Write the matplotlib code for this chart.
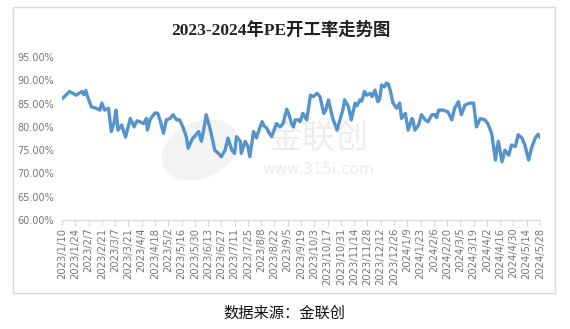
import matplotlib.pyplot as plt
import pandas as pd
from matplotlib.patches import Rectangle, Ellipse

plt.rcParams['font.family'] = ['Noto Sans CJK SC', 'DejaVu Sans']

START = "2023-01-10"
END = "2024-05-28"

# days after 2023-01-10
DAYS = [1, 8, 15, 21, 23, 25, 27, 31, 36, 40, 42, 45, 49, 52, 55, 57, 59, 63,
        65, 67, 72, 76, 79, 82, 86, 89, 90, 93, 98, 101, 104, 107, 110, 114,
        117, 121, 124, 128, 131, 133, 136, 138, 141, 144, 147, 150, 152, 156,
        159, 161, 165, 168, 172, 175, 179, 182, 184, 188, 189, 193, 196, 198,
        202, 205, 208, 211, 213, 216, 218, 221, 224, 226, 230, 233, 237, 240,
        242, 244, 246, 249, 251, 254, 258, 262, 265, 269, 272, 276, 278, 281,
        284, 286, 290, 293, 296, 298, 302, 305, 309, 311, 314, 316, 319, 321,
        325, 327, 330, 333, 335, 337, 340, 342, 344, 346, 348, 349, 353, 356,
        358, 362, 365, 369, 370, 372, 376, 379, 383, 386, 390, 393, 395, 397,
        402, 407, 411, 414, 418, 421, 425, 430, 434, 437, 441, 446, 449, 453,
        457, 460, 464, 467, 471, 474, 478, 481, 485, 488, 492, 495, 499, 502,
        504]

# PE operating rate, %
RATE = [86.2, 87.6, 86.8, 87.6, 86.9, 87.8, 86.5, 84.3, 84.0, 83.6, 85.1, 83.6,
        84.0, 79.0, 81.0, 83.6, 79.3, 80.4, 79.0, 77.8, 81.8, 80.0, 81.3, 81.1,
        80.7, 81.8, 79.3, 81.6, 83.0, 82.9, 81.0, 78.6, 81.5, 81.8, 82.6, 81.5,
        81.5, 79.7, 77.9, 75.4, 76.8, 77.6, 78.2, 79.0, 76.9, 80.0, 82.6, 79.7,
        77.0, 75.0, 74.3, 73.6, 75.0, 77.6, 75.0, 74.3, 77.9, 76.9, 74.3, 76.9,
        75.8, 73.6, 79.0, 77.6, 79.5, 81.1, 80.2, 79.7, 78.8, 77.9, 79.5, 80.7,
        80.0, 80.7, 83.8, 82.2, 80.7, 80.0, 81.5, 81.5, 81.1, 82.9, 81.5, 86.8,
        86.5, 87.2, 86.5, 82.9, 83.5, 85.8, 83.0, 81.5, 79.3, 81.5, 83.5, 85.8,
        84.3, 81.5, 85.1, 84.5, 85.8, 85.5, 87.6, 86.8, 87.2, 86.5, 87.9, 85.4,
        86.0, 89.0, 88.6, 89.4, 89.2, 87.9, 86.0, 85.1, 84.0, 85.1, 81.8, 82.9,
        79.3, 81.8, 81.5, 79.3, 80.4, 82.6, 81.5, 81.1, 82.6, 82.6, 82.0, 83.6,
        83.6, 83.2, 81.5, 84.0, 85.4, 82.6, 84.7, 85.1, 85.1, 80.0, 81.8, 81.5,
        80.7, 78.6, 72.9, 76.9, 72.5, 75.0, 73.9, 76.1, 75.8, 78.3, 77.6, 76.1,
        72.9, 75.4, 77.6, 78.4, 77.8]

Y_TICKS = [60, 65, 70, 75, 80, 85, 90, 95]

TITLE = "2023-2024年PE开工率走势图"
SOURCE = "数据来源：金联创"


def main():
    W, H = 570, 329
    fig = plt.figure(figsize=(W / 100, H / 100), dpi=100)
    ax = fig.add_axes([62 / W, 1 - 220 / H, (540 - 62) / W, (220 - 57) / H])
    ax.set_zorder(2)
    ax.patch.set_alpha(0)

    start = pd.Timestamp(START)
    dates = start + pd.to_timedelta(DAYS, unit="D")

    # chart frame
    fig.patches.append(Rectangle((13 / W, 1 - 293 / H), (555 - 13) / W, (293 - 7) / H,
                                 transform=fig.transFigure, fill=False,
                                 edgecolor="#d9d9d9", linewidth=1.0, zorder=0))

    # faint watermark, kept behind the axes
    fig.patches.append(Ellipse((200 / W, 1 - 150 / H), 70 / W, 62 / H, angle=-20,
                               transform=fig.transFigure, color="#f3f3f3", zorder=0))
    fig.text(318 / W, 1 - 138 / H, "金联创", fontsize=24, color="#ededed",
             ha="center", va="center", zorder=0)
    fig.text(318 / W, 1 - 170 / H, "www.315i.com", fontsize=11, color="#ededed",
             ha="center", va="center", zorder=0, family="DejaVu Sans")

    ax.plot(dates, RATE, color="#5593cd", linewidth=2.4, solid_joinstyle="round")

    ax.set_xlim(start, pd.Timestamp(END))
    ax.set_ylim(60, 95)
    ax.set_yticks(Y_TICKS)
    ax.set_yticklabels([f"{v:.2f}%" for v in Y_TICKS])

    xticks = pd.date_range(START, END, freq="14D")
    ax.set_xticks(xticks)
    ax.set_xticklabels([f"{d.year}/{d.month}/{d.day}" for d in xticks],
                       rotation=90, family="DejaVu Sans")

    for side in ["left", "right", "top"]:
        ax.spines[side].set_visible(False)
    ax.spines["bottom"].set_color("#d9d9d9")
    ax.tick_params(axis="y", length=0, pad=6, labelsize=7, labelcolor="#777777")
    ax.tick_params(axis="x", length=4, color="#d9d9d9", pad=1.5, labelsize=7.2,
                   labelcolor="#777777")
    for lbl in ax.get_yticklabels():
        lbl.set_family("DejaVu Sans")

    fig.text(281 / W, 1 - 30 / H, TITLE, fontsize=12.5, fontweight="bold",
             ha="center", va="center", color="#222222",
             family=["Liberation Serif", "Noto Sans CJK SC"])
    fig.text(284 / W, 1 - 313 / H, SOURCE, fontsize=11, ha="center", va="center",
             color="#111111")

    fig.savefig("out.png", dpi=100)


if __name__ == "__main__":
    main()
